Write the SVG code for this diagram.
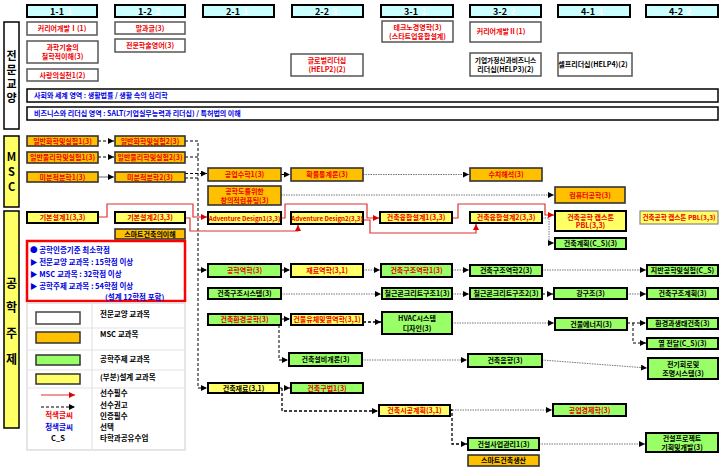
<svg xmlns="http://www.w3.org/2000/svg" width="720" height="472" viewBox="0 0 720 472">
<defs>
<marker id="ak" markerUnits="userSpaceOnUse" markerWidth="7" markerHeight="6" refX="6" refY="3" orient="auto"><path d="M0,0 L6,3 L0,6 z" fill="#000"/></marker>
<marker id="ar" markerUnits="userSpaceOnUse" markerWidth="7" markerHeight="6" refX="6" refY="3" orient="auto"><path d="M0,0 L6,3 L0,6 z" fill="#e00000"/></marker>
<style>
text{font-family:"Noto Sans CJK KR","Liberation Sans",sans-serif;font-weight:bold;font-size:7px;text-anchor:middle}
.r{fill:#ee0000}.k{fill:#000}.b{fill:#0000e0}.w{fill:#fff;font-size:9px}
.s{text-anchor:start}
.h{fill:#ccffff;stroke:#000;stroke-width:2}
.wb{fill:#fff;stroke:#555;stroke-width:1.5}
.or{fill:#ffc000;stroke:#333;stroke-width:1.6}
.ye{fill:#ffff66;stroke:#000;stroke-width:2}
.gr{fill:#99ff66;stroke:#000;stroke-width:2}
.cat{fill:#ffff66;stroke:#000;stroke-width:1.5}
.ct{font-size:11px}
.vt{font-size:11px;writing-mode:vertical-rl;text-orientation:upright;letter-spacing:3px;text-anchor:start}
.ht{font-size:9px}
.lg{font-size:7.5px;font-weight:bold}
.red{fill:none;stroke:#e03030;stroke-width:1.2}
.dk{fill:none;stroke:#000;stroke-width:1;stroke-dasharray:3 2}
.gy{fill:none;stroke:#777;stroke-width:1;stroke-dasharray:1.5 1}
.sg{fill:none;stroke:#666;stroke-width:1}
.ad{font-size:6.2px}
</style>
</defs>
<rect width="720" height="472" fill="#fff"/>

<g id="headers">
<rect class="h" x="27" y="5" width="70" height="12"/><text class="ht" x="57" y="14.5">1-1</text><text class="w" x="70" y="14.5">1</text>
<rect class="h" x="115" y="5" width="70" height="12"/><text class="ht" x="145" y="14.5">1-2</text><text class="w" x="158" y="14.5">2</text>
<rect class="h" x="203" y="5" width="71" height="12"/><text class="ht" x="233" y="14.5">2-1</text><text class="w" x="246" y="14.5">1</text>
<rect class="h" x="292" y="5" width="71" height="12"/><text class="ht" x="322" y="14.5">2-2</text><text class="w" x="335" y="14.5">2</text>
<rect class="h" x="381" y="5" width="72" height="12"/><text class="ht" x="411" y="14.5">3-1</text><text class="w" x="424" y="14.5">1</text>
<rect class="h" x="470" y="5" width="71" height="12"/><text class="ht" x="500" y="14.5">3-2</text><text class="w" x="513" y="14.5">2</text>
<rect class="h" x="558" y="5" width="72" height="12"/><text class="ht" x="588" y="14.5">4-1</text><text class="w" x="601" y="14.5">1</text>
<rect class="h" x="646" y="5" width="72" height="12"/><text class="ht" x="676" y="14.5">4-2</text><text class="w" x="689" y="14.5">2</text>
</g>

<g id="cat-liberal"><rect x="4" y="22" width="15" height="107" fill="#fff" stroke="#000" stroke-width="1.5"/>
<text class="vt" x="11.5" y="50.5">전문교양</text></g>
<g id="cat-msc"><rect class="cat" x="4" y="136" width="15" height="71"/>
<text class="ct" x="11.5" y="161">M</text><text class="ct" x="11.5" y="176">S</text><text class="ct" x="11.5" y="191">C</text></g>
<g id="cat-eng"><rect class="cat" x="4" y="211" width="15" height="217"/>
<text class="ct" style="font-size:12px" x="11.5" y="288">공</text><text class="ct" style="font-size:12px" x="11.5" y="312">학</text><text class="ct" style="font-size:12px" x="11.5" y="338">주</text><text class="ct" style="font-size:12px" x="11.5" y="364">제</text></g>

<g id="connectors">
<path class="dk" d="M98,141 H114" marker-end="url(#ak)"/>
<path class="dk" d="M98,157 H114" marker-end="url(#ak)"/>
<path class="sg" d="M98,177 H114" marker-end="url(#ak)"/>
<path class="dk" d="M185,141 H198 V388 H207" marker-end="url(#ak)"/>
<path class="dk" d="M185,157 H198"/>
<path class="dk" d="M185,173.5 H207" marker-end="url(#ak)"/>
<path class="dk" d="M185,178 H198"/>
<path class="dk" d="M198,270 H207" marker-end="url(#ak)"/>
<path class="dk" d="M281,174.5 H290" marker-end="url(#ak)"/>
<path class="gy" d="M363,174.5 H469" marker-end="url(#ak)"/>
<path class="gy" d="M281,195 H554" marker-end="url(#ak)"/>
<path class="gy" d="M542,218 H549 V243 H554" marker-end="url(#ak)"/>
<path class="dk" d="M281,270 H290" marker-end="url(#ak)"/>
<path class="gy" d="M363,270 H380" marker-end="url(#ak)"/>
<path class="gy" d="M452,270 H469" marker-end="url(#ak)"/>
<path class="gy" d="M542,270 H646" marker-end="url(#ak)"/>
<path class="gy" d="M281,294 H381" marker-end="url(#ak)"/>
<path class="gy" d="M452,294 H469" marker-end="url(#ak)"/>
<path class="dk" d="M542,294 H553" marker-end="url(#ak)"/>
<path class="gy" d="M627,294 H646" marker-end="url(#ak)"/>
<path class="dk" d="M281,319 H290" marker-end="url(#ak)"/>
<path class="dk" style="stroke-width:1.5" d="M363,322 H381" marker-end="url(#ak)"/>
<path class="gy" d="M452,323 H554" marker-end="url(#ak)"/>
<path class="dk" d="M627,323 H646" marker-end="url(#ak)"/>
<path class="dk" d="M633,323 V343 H646" marker-end="url(#ak)"/>
<path class="dk" d="M279,325 V360 H288" marker-end="url(#ak)"/>
<path class="gy" d="M362,360 H467" marker-end="url(#ak)"/>
<path class="gy" d="M542,360 L647,368" marker-end="url(#ak)"/>
<path class="dk" d="M279,388 H290" marker-end="url(#ak)"/>
<path class="dk" style="stroke-width:1.3" d="M282,388 V411 H378" marker-end="url(#ak)"/>
<path class="gy" d="M450,410 H552" marker-end="url(#ak)"/>
<path class="dk" style="stroke-width:1.3" d="M450,410 H452 V444 H467" marker-end="url(#ak)"/>
<path class="gy" d="M539,444 H645" marker-end="url(#ak)"/>
<path class="red" d="M98,217 H107 V204 H193 V217 H207" marker-end="url(#ar)"/>
<path class="red" d="M185,218 H190 V231 H298 V225" marker-end="url(#ar)"/>
<path class="red" d="M281,218 H285 V204 H367 V218 H379" marker-end="url(#ar)"/>
<path class="red" d="M363,220 H370 V233 H476 V224" marker-end="url(#ar)"/>
<path class="red" d="M452,218 H458 V204 H545 V215 H554" marker-end="url(#ar)"/>
</g>

<g id="n-career1"><rect class="wb" x="27" y="22" width="70" height="13"/><text class="r" x="62" y="31">커리어개발Ⅰ(1)</text></g>
<g id="n-philosophy"><rect class="wb" x="27" y="41" width="71" height="22"/><text class="r" x="62.5" y="50">과학기술의</text><text class="r" x="62.5" y="59">철학적이해(3)</text></g>
<g id="n-love"><rect class="wb" x="27" y="69" width="71" height="12"/><text class="r" x="62.5" y="77.5">사랑의실천1(2)</text></g>
<g id="n-speech"><rect class="wb" x="115" y="22" width="70" height="12"/><text class="r" x="150" y="30.5">말과글(3)</text></g>
<g id="n-english"><rect class="wb" x="115" y="39" width="70" height="13"/><text class="r" x="150" y="48">전문학술영어(3)</text></g>
<g id="n-global"><rect class="wb" x="291" y="54" width="72" height="22"/><text class="r" x="327" y="63">글로벌리더십</text><text class="r" x="327" y="72">(HELP2)(2)</text></g>
<g id="n-techno"><rect class="wb" x="382" y="21" width="71" height="21"/><text class="r" x="417.5" y="30">테크노경영학(3)</text><text class="r" x="417.5" y="39">(스타트업융합설계)</text></g>
<g id="n-career2"><rect class="wb" x="470" y="22" width="71" height="20"/><text class="r" x="501" y="34">커리어개발Ⅱ(1)</text></g>
<g id="n-entre"><rect class="wb" x="470" y="53" width="71" height="23"/><text class="k" style="font-size:6.7px" x="505.5" y="62.5">기업가정신과비즈니스</text><text class="k" x="505.5" y="72">리더십(HELP3)(2)</text></g>
<g id="n-self"><rect class="wb" x="558" y="53" width="74" height="23"/><text class="k" x="593" y="67">셀프리더십(HELP4)(2)</text></g>
<g id="n-bar1"><rect x="27" y="89" width="691" height="13" fill="#fff" stroke="#000" stroke-width="1.5"/><text class="b s" x="34" y="98">사회와 세계 영역 : 생활법률 / 생활 속의 심리학</text></g>
<g id="n-bar2"><rect x="27" y="107" width="691" height="13" fill="#fff" stroke="#000" stroke-width="1.5"/><text class="b s" x="34" y="116">비즈니스와 리더십 영역 : SALT(기업실무능력과 리더십) / 특허법의 이해</text></g>

<g id="n-chem1"><rect class="or" x="27" y="136" width="71" height="10"/><text class="r" x="62.5" y="143.5">일반화학및실험1(3)</text></g>
<g id="n-chem2"><rect class="or" x="115" y="136" width="70" height="10"/><text class="r" x="150" y="143.5">일반화학및실험2(3)</text></g>
<g id="n-phys1"><rect class="or" x="27" y="152" width="71" height="11"/><text class="r" x="62.5" y="160">일반물리학및실험1(3)</text></g>
<g id="n-phys2"><rect class="or" x="115" y="152" width="70" height="11"/><text class="r" x="150" y="160">일반물리학및실험2(3)</text></g>
<g id="n-calc1"><rect class="or" x="27" y="172" width="71" height="10"/><text class="r" x="62.5" y="179.5">미분적분학1(3)</text></g>
<g id="n-calc2"><rect class="or" x="115" y="172" width="70" height="10"/><text class="r" x="150" y="179.5">미분적분학2(3)</text></g>
<g id="n-engmath"><rect class="or" x="208" y="168" width="73" height="13"/><text class="r" x="244.5" y="177">공업수학1(3)</text></g>
<g id="n-stat"><rect class="or" x="291" y="168" width="72" height="13"/><text class="r" x="327" y="177">확률통계론(3)</text></g>
<g id="n-numeric"><rect class="or" x="470" y="168" width="72" height="13"/><text class="r" x="506" y="177">수치해석(3)</text></g>
<g id="n-computing"><rect class="or" x="208" y="186" width="73" height="19"/><text class="r" x="244.5" y="194">공학도를위한</text><text class="r" x="244.5" y="202.5">창의적컴퓨팅(3)</text></g>
<g id="n-comp"><rect class="or" x="555" y="187" width="70" height="16"/><text class="r" x="590" y="197.5">컴퓨터공학(3)</text></g>

<g id="n-basic1"><rect class="ye" x="27" y="212" width="71" height="11"/><text class="r" x="62.5" y="220">기본설계1(3,3)</text></g>
<g id="n-basic2"><rect class="ye" x="115" y="212" width="70" height="11"/><text class="r" x="150" y="220">기본설계2(3,3)</text></g>
<g id="n-smart"><rect class="or" x="115" y="229" width="70" height="10"/><text class="k" x="150" y="236.5">스마트건축의이해</text></g>
<g id="n-ad1"><rect class="ye" x="208" y="212" width="73" height="12"/><text class="r ad" x="244.5" y="220.5">Adventure Design1(3,3)</text></g>
<g id="n-ad2"><rect class="ye" x="291" y="212" width="72" height="12"/><text class="r ad" x="327" y="220.5">Adventure Design2(3,3)</text></g>
<g id="n-fusion1"><rect class="ye" x="380" y="212" width="72" height="11"/><text class="r" x="416" y="220">건축융합설계1(3,3)</text></g>
<g id="n-fusion2"><rect class="ye" x="470" y="212" width="72" height="11"/><text class="r" x="506" y="220">건축융합설계2(3,3)</text></g>
<g id="n-capstone1"><rect class="ye" x="555" y="211" width="71" height="20"/><text class="r" x="590.5" y="219.5">건축공학 캡스톤</text><text class="r" x="590.5" y="228">PBL(3,3)</text></g>
<g id="n-capstone2"><rect x="640" y="211" width="78" height="13" fill="#ffff66" stroke="#888" stroke-width="1.2"/><text class="r" style="font-size:6.6px" x="679" y="220">건축공학 캡스톤 PBL(3,3)</text></g>
<g id="n-plan"><rect class="gr" x="555" y="238" width="71" height="11"/><text class="k" x="590.5" y="246">건축계획(C_S)(3)</text></g>

<g id="n-criteria"><rect x="27" y="241" width="158" height="60" fill="#fff" stroke="#ff0000" stroke-width="2.5"/>
<text class="b s lg" x="30" y="253">● 공학인증기준 최소학점</text>
<text class="b s lg" x="30" y="265">▶ 전문교양 교과목 : 15학점 이상</text>
<text class="b s lg" x="30" y="277">▶ MSC 교과목 : 32학점 이상</text>
<text class="b s lg" x="30" y="289">▶ 공학주제 교과목 : 54학점 이상</text>
<text class="b s lg" x="105" y="299.5">(설계 12학점 포함)</text></g>

<g id="n-legend">
<rect x="27" y="303" width="158" height="147" fill="#fff" stroke="#ddd" stroke-width="1.5"/>
<path d="M92,303 V450 M27,328 H185 M27,350 H185 M27,370 H185 M27,388 H185" stroke="#e4e4e4" stroke-width="1.2" fill="none"/>
<rect x="36" y="312" width="44" height="12" fill="#fff" stroke="#444" stroke-width="1.5"/><text class="k s lg" x="100" y="317">전문교양 교과목</text>
<rect x="36" y="332" width="44" height="11" fill="#ffc000" stroke="#333" stroke-width="1.5"/><text class="k s lg" x="100" y="337">MSC 교과목</text>
<rect x="36" y="355" width="44" height="10" fill="#99ff66" stroke="#333" stroke-width="1.5"/><text class="k s lg" x="100" y="362">공학주제 교과목</text>
<rect x="36" y="374" width="44" height="10" fill="#ffff66" stroke="#333" stroke-width="1.5"/><text class="k s lg" x="100" y="380">(부분)설계 교과목</text>
<path class="red" d="M41,395 H75" marker-end="url(#ar)"/>
<path class="dk" d="M41,407 H75" marker-end="url(#ak)"/>
<text class="r lg" x="59" y="418">적색글씨</text>
<text class="b lg" x="59" y="430">청색글씨</text>
<text class="k lg" x="58" y="441">C_S</text>
<text class="k s lg" x="100" y="396">선수필수</text>
<text class="k s lg" x="100" y="407.5">선수권고</text>
<text class="k s lg" x="100" y="419">인증필수</text>
<text class="k s lg" x="100" y="430">선택</text>
<text class="k s lg" x="100" y="441">타학과공유수업</text>
</g>

<g id="n-mech"><rect class="gr" x="208" y="264" width="73" height="13"/><text class="r" x="244.5" y="273">공학역학(3)</text></g>
<g id="n-mat"><rect class="ye" x="291" y="264" width="72" height="13"/><text class="r" x="327" y="273">재료역학(3,1)</text></g>
<g id="n-struct1"><rect class="gr" x="381" y="264" width="71" height="13"/><text class="r" x="416.5" y="273">건축구조역학1(3)</text></g>
<g id="n-struct2"><rect class="gr" x="470" y="265" width="72" height="11"/><text class="k" x="506" y="273">건축구조역학2(3)</text></g>
<g id="n-soil"><rect class="gr" x="647" y="265" width="71" height="11"/><text class="k" x="682.5" y="273">지반공학및실험(C_S)</text></g>
<g id="n-sys"><rect class="gr" x="208" y="288" width="73" height="11"/><text class="k" x="244.5" y="296">건축구조시스템(3)</text></g>
<g id="n-rc1"><rect class="gr" x="382" y="288" width="70" height="11"/><text class="k" x="417" y="296">철근콘크리트구조1(3)</text></g>
<g id="n-rc2"><rect class="gr" x="470" y="288" width="72" height="11"/><text class="k" x="506" y="296">철근콘크리트구조2(3)</text></g>
<g id="n-steel"><rect class="gr" x="554" y="288" width="73" height="11"/><text class="k" x="590.5" y="296">강구조(3)</text></g>
<g id="n-splan"><rect class="gr" x="647" y="288" width="71" height="11"/><text class="k" x="682.5" y="296">건축구조계획(3)</text></g>
<g id="n-env"><rect class="gr" x="208" y="314" width="73" height="11"/><text class="r" x="244.5" y="322">건축환경공학(3)</text></g>
<g id="n-fluid"><rect class="ye" x="291" y="314" width="72" height="11"/><text class="r" x="327" y="322">건물유체및열역학(3,1)</text></g>
<g id="n-hvac"><rect class="gr" x="382" y="312" width="70" height="22"/><text class="k" x="417" y="321">HVAC시스템</text><text class="k" x="417" y="330.5">디자인(3)</text></g>
<g id="n-energy"><rect class="gr" x="555" y="318" width="72" height="12"/><text class="k" x="591" y="326.5">건물에너지(3)</text></g>
<g id="n-eco"><rect class="gr" x="647" y="318" width="71" height="11"/><text class="k" x="682.5" y="326">환경과생태건축(3)</text></g>
<g id="n-heat"><rect class="gr" x="647" y="338" width="71" height="11"/><text class="k" x="682.5" y="346">열 전달(C_S)(3)</text></g>
<g id="n-equip"><rect class="gr" x="289" y="353" width="73" height="13"/><text class="k" x="325.5" y="362">건축설비개론(3)</text></g>
<g id="n-acoustic"><rect class="gr" x="468" y="354" width="74" height="13"/><text class="k" x="505" y="363">건축음향(3)</text></g>
<g id="n-light"><rect class="gr" x="648" y="358" width="70" height="21"/><text class="k" x="683" y="366.5">전기회로및</text><text class="k" x="683" y="375.5">조명시스템(3)</text></g>
<g id="n-material"><rect class="ye" x="208" y="383" width="71" height="10"/><text class="k" x="243.5" y="390.5">건축재료(3,1)</text></g>
<g id="n-method"><rect class="gr" x="291" y="383" width="72" height="10"/><text class="r" x="327" y="390.5">건축구법1(3)</text></g>
<g id="n-construct"><rect class="ye" x="379" y="405" width="71" height="11"/><text class="r" x="414.5" y="413">건축시공계획(3,1)</text></g>
<g id="n-econ"><rect class="gr" x="553" y="404" width="73" height="12"/><text class="r" x="589.5" y="412.5">공업경제학(3)</text></g>
<g id="n-cm"><rect class="gr" x="468" y="438" width="71" height="12"/><text class="k" x="503.5" y="446.5">건설사업관리1(3)</text></g>
<g id="n-smartprod"><rect class="or" x="468" y="455" width="71" height="11"/><text class="k" x="503.5" y="463">스마트건축생산</text></g>
<g id="n-project"><rect class="gr" x="646" y="433" width="72" height="19"/><text class="k" x="682" y="441">건설프로젝트</text><text class="k" x="682" y="449.5">기획및개발(3)</text></g>
</svg>
